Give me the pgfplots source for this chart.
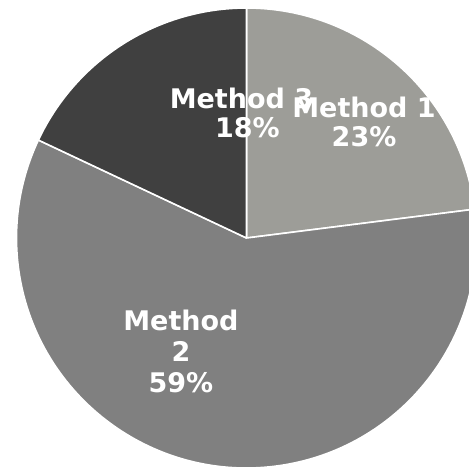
\documentclass[border=0pt]{standalone}
\usepackage{pgfplots}
\pgfplotsset{compat=1.18}
\usepackage{fontspec}
\setmainfont{DejaVu Sans}

\definecolor{m1}{RGB}{157,157,152}
\definecolor{m2}{RGB}{128,128,128}
\definecolor{m3}{RGB}{64,64,64}

% #1 share already used (percent), #2 share of this slice (percent), #3 colour
\newcommand{\slice}[3]{%
  \filldraw[fill=#3, draw=white, line width=1.6pt, line join=round]
    (axis cs:0,0) -- (axis cs:{cos(90-3.6*#1)},{sin(90-3.6*#1)})
    arc[start angle={90-3.6*#1}, end angle={90-3.6*(#1+#2)}, radius=1]
    -- cycle;}

\begin{document}
\begin{tikzpicture}
\begin{axis}[
    width=469pt, height=469pt,
    scale only axis,
    hide axis,
    xmin=-1.0717, xmax=0.9674,
    ymin=-1.0043, ymax=1.0348,
    clip=true,
]
\addplot[draw=none] coordinates {(0,0)};

% Method 1: 23, Method 2: 59, Method 3: 18
\slice{0}{23}{m1}
\slice{23}{59}{m2}
\slice{82}{18}{m3}

\begin{scope}[every node/.style={text=white, font=\bfseries\fontsize{27}{33}\selectfont, inner sep=0pt, anchor=base}]
\node at (axis cs:-0.022,0.565) {Method 3};
\node at (axis cs:0.004,0.435) {18\%};
\node at (axis cs:0.511,0.526) {Method 1};
\node at (axis cs:0.511,0.396) {23\%};
\node at (axis cs:-0.285,-0.400) {Method};
\node at (axis cs:-0.285,-0.539) {2};
\node at (axis cs:-0.285,-0.670) {59\%};
\end{scope}
\end{axis}
\pgfresetboundingbox
\useasboundingbox (current axis.south west) rectangle (current axis.north east);
\end{tikzpicture}
\end{document}
